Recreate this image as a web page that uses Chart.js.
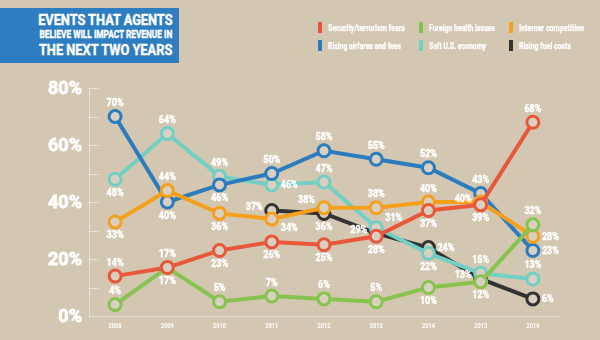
<!DOCTYPE html>
<html>
<head>
<meta charset="utf-8">
<script src="https://cdn.jsdelivr.net/npm/chart.js@4/dist/chart.umd.min.js"></script>
<style>
  html,body{margin:0;padding:0;background:#D3C7B1;}
  #wrap{position:relative;width:600px;height:340px;overflow:hidden;background:#D3C7B1;font-family:Roboto,"Liberation Sans",sans-serif;}
  #title{position:absolute;left:0;top:8px;width:179px;height:55px;background:#2E7DC0;}
  .tl{position:absolute;right:7px;color:#fff;font-weight:bold;white-space:nowrap;line-height:1;transform-origin:100% 50%;-webkit-text-stroke:0.4px #fff;}
  .li{position:absolute;color:#fff;font-weight:bold;font-size:8.5px;white-space:nowrap;line-height:10px;transform-origin:0 50%;-webkit-text-stroke:0.25px #fff;}
  .sw{position:absolute;width:4px;height:11px;}
  canvas{position:absolute;left:0;top:0;}
</style>
</head>
<body>
<div id="wrap">
  <canvas id="c" width="600" height="340"></canvas>
  <div id="title"></div>
  <div id="legend"></div>
</div>
<script>
const years = ['2008','2009','2010','2011','2012','2013','2014','2015','2016'];
const yTickLabels = ['0%','20%','40%','60%','80%'];
const titleLines = ['EVENTS THAT AGENTS','BELIEVE WILL IMPACT REVENUE IN','THE NEXT TWO YEARS'];
const seriesNames = ['Security/terrorism fears','Foreign health issues','Interner competition','Rising airfares and fees','Soft U.S. economy','Rising fuel costs'];
const security = [14,17,23,26,25,28,37,39,68];
const foreignHealth = [4,17,5,7,6,5,10,12,32];
const internetComp = [33,44,36,34,38,38,40,40,28];
const airfares = [70,40,46,50,58,55,52,43,23];
const softEconomy = [48,64,49,46,47,31,22,15,13];
const fuelCosts = [null,null,null,37,36,29,24,13,6];

const colors = ['#E9573B','#88C34F','#F5A01C','#2B7BBF','#72CFC4','#333333'];
// label placement per point: a=above, b=below, l=left, r=right
const placements = [
  ['a','a','b','b','b','b','b','b','a'],
  ['a','b','a','a','a','a','b','b','a'],
  ['b','a','b','rb','la','a','a','l','r'],
  ['a','b','b','a','a','a','a','a','r'],
  ['b','a','a','r','a','ra','b','a','a'],
  ['','','','l','b','l','r','l','r']
];
const values = [security,foreignHealth,internetComp,airfares,softEconomy,fuelCosts];

const FONT = 'Roboto,"Liberation Sans",sans-serif';
const W = 'bold';
const mctx = document.createElement('canvas').getContext('2d');
function measure(t, size){ mctx.font = W+' '+size+'px '+FONT; return mctx.measureText(t).width; }

// title
const title = document.getElementById('title');
const tSizes = [14,10,15.5], tTops = [5,22,35], tW = [135,133,134];
titleLines.forEach((t,i)=>{
  const d = document.createElement('div');
  d.className='tl';
  d.style.fontSize = tSizes[i]+'px';
  d.style.top = tTops[i]+'px';
  d.textContent = t;
  d.style.transform = 'scaleX('+(tW[i]/measure(t,tSizes[i])).toFixed(3)+')';
  title.appendChild(d);
});

// legend
const leg = document.getElementById('legend');
const colX = [318,419,509], rowY = [22,40];
const legW = [77,66,65,73,57,52];
seriesNames.forEach((n,i)=>{
  const sw = document.createElement('div');
  sw.className='sw';
  sw.style.left = colX[i%3]+'px';
  sw.style.top = rowY[Math.floor(i/3)]+'px';
  sw.style.background = colors[i];
  leg.appendChild(sw);
  const d = document.createElement('div');
  d.className='li';
  d.style.left = (colX[i%3]+10)+'px';
  d.style.top = (rowY[Math.floor(i/3)]+1)+'px';
  d.textContent = n;
  d.style.transform = 'scaleX('+(legW[i]/measure(n,8.5)).toFixed(3)+')';
  leg.appendChild(d);
});

const labelScale = 17/measure('70%',10);
const yScaleX = 34/measure('80%',18);
const xScaleX = 13/measure('2008',6.5);

function drawText(ctx, t, x, y, size, sx, align, stroke){
  ctx.save();
  ctx.font = W+' '+size+'px '+FONT;
  ctx.textBaseline = 'middle';
  ctx.textAlign = align;
  ctx.translate(x,y);
  ctx.scale(sx,1);
  ctx.fillText(t,0,0);
  if(stroke){ ctx.strokeStyle = ctx.fillStyle; ctx.lineWidth = stroke; ctx.strokeText(t,0,0); }
  ctx.restore();
}

const labelPlugin = {
  id:'pointLabels',
  afterDatasetsDraw(chart){
    const ctx = chart.ctx;
    ctx.save();
    ctx.fillStyle = '#fff';
    chart.data.datasets.forEach((ds,di)=>{
      const meta = chart.getDatasetMeta(di);
      meta.data.forEach((pt,i)=>{
        const v = ds.data[i];
        if(v===null||v===undefined) return;
        const p = placements[di][i];
        let x = pt.x, y = pt.y, align='center';
        if(p.includes('a')) y -= 13;
        if(p.includes('b')) y += 14;
        if(p.includes('r')){ x += 9; align='left'; if(p==='r') y+=1; }
        if(p.includes('l')){ x -= 9; align='right'; if(p==='l') y-=3; }
        if(p==='rb'){ y -= 5; }
        if(p==='la'){ y += 6; }
        if(p==='ra'){ y += 4; }
        drawText(ctx, v+'%', x, y, 10, labelScale, align, 0.4);
      });
    });
    ctx.restore();
  }
};

const axisPlugin = {
  id:'axisDeco',
  beforeDatasetsDraw(chart){
    const ctx = chart.ctx, ys = chart.scales.y, xs = chart.scales.x, left = chart.chartArea.left;
    ctx.save();
    ctx.strokeStyle='rgba(255,255,255,0.45)';
    ctx.lineWidth=1;
    for(let v=10; v<=80; v+=10){
      const y = Math.round(ys.getPixelForValue(v))+0.5;
      ctx.beginPath(); ctx.moveTo(left,y); ctx.lineTo(left+10,y); ctx.stroke();
    }
    ctx.fillStyle='#fff';
    ys.ticks.forEach((tk)=>{
      drawText(ctx, yTickLabels[tk.value/20], left-7, ys.getPixelForValue(tk.value)+1, 18, yScaleX, 'right', 0.8);
    });
    chart.data.labels.forEach((l,i)=>{
      drawText(ctx, l, xs.getPixelForValue(i), chart.chartArea.bottom+10, 6.5, xScaleX, 'center', 0);
    });
    ctx.restore();
  }
};

new Chart(document.getElementById('c'),{
  type:'line',
  data:{
    labels: years,
    datasets: values.map((d,i)=>({
      label: seriesNames[i],
      data: d,
      borderColor: colors[i],
      backgroundColor: colors[i],
      borderWidth: 4,
      pointRadius: 6,
      pointBorderWidth: 3,
      pointBackgroundColor: '#D9D0C1',
      pointBorderColor: colors[i],
      tension: 0,
      spanGaps: false
    }))
  },
  options:{
    responsive:false,
    animation:false,
    layout:{padding:{top:88,right:41,left:0,bottom:0}},
    plugins:{legend:{display:false},tooltip:{enabled:false}},
    scales:{
      x:{
        offset:true,
        grid:{display:false,drawTicks:false},
        border:{display:true,color:'rgba(255,255,255,0.45)',width:1},
        ticks:{display:false},
        afterFit(s){ s.height = 24; }
      },
      y:{
        min:0,max:80,
        grid:{display:false,drawTicks:false},
        border:{display:true,color:'rgba(255,255,255,0.45)',width:1},
        ticks:{display:false,stepSize:20},
        afterFit(s){ s.width = 89; }
      }
    }
  },
  plugins:[axisPlugin,labelPlugin]
});
</script>
</body>
</html>
